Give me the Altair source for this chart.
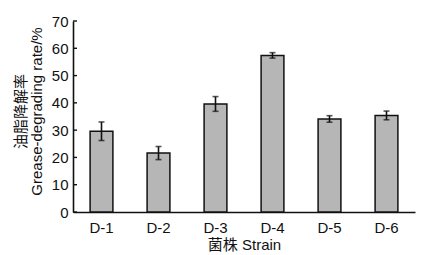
import altair as alt
import pandas as pd

strains = ["D-1", "D-2", "D-3", "D-4", "D-5", "D-6"]
rates = [29.6, 21.6, 39.6, 57.4, 34.1, 35.4]
errors = [3.4, 2.4, 2.7, 1.0, 1.2, 1.6]
y_ticks = [0, 10, 20, 30, 40, 50, 60, 70]

df = pd.DataFrame({"strain": strains, "rate": rates, "err": errors})
df["lo"] = df["rate"] - df["err"]
df["hi"] = df["rate"] + df["err"]
tick_df = pd.DataFrame({"v": y_ticks})

FONT = "Liberation Sans, Noto Sans CJK SC"

xaxis = alt.Axis(title="菌株 Strain", labelAngle=0, ticks=False,
                 labelFont=FONT, labelFontSize=15, labelColor="#111",
                 labelPadding=8, domainColor="#111", domainWidth=1.6,
                 titleFont=FONT, titleFontSize=15, titleFontWeight="normal",
                 titleColor="#111", titlePadding=2)
xscale = alt.Scale(paddingInner=0.6, paddingOuter=0.3)
yaxis = alt.Axis(values=y_ticks, tickCount=8, ticks=False, grid=False, labelOverlap=False,
                 labelFont=FONT, labelFontSize=15, labelColor="#111",
                 labelPadding=5, domainColor="#111", domainWidth=1.6,
                 title=["\u00a0" * 5 + "油脂降解率", "Grease-degrading rate/%"],
                 titleFont=FONT, titleFontSize=15, titleFontWeight="normal",
                 titleColor="#111", titleLineHeight=16,
                 titleAngle=-90, titleBaseline="middle", titleAlign="center",
                 titleX=-53, titleY=90)
yscale = alt.Scale(domain=[0, 70], nice=False)

def X():
    return alt.X("strain:N", sort=strains, scale=xscale, axis=xaxis)

def Y(field):
    return alt.Y(field, scale=yscale, axis=yaxis)

bars = alt.Chart(df).mark_bar(color="#b6b6b6", stroke="#111", strokeWidth=1.5).encode(
    x=X(), y=Y("rate:Q"))

err = alt.Chart(df).mark_rule(color="#111", strokeWidth=1.6).encode(
    x=X(), y=Y("lo:Q"), y2="hi:Q")
cap_hi = alt.Chart(df).mark_tick(color="#111", thickness=1.6, size=6, orient="horizontal").encode(
    x=X(), y=Y("hi:Q"))
cap_lo = alt.Chart(df).mark_tick(color="#111", thickness=1.6, size=6, orient="horizontal").encode(
    x=X(), y=Y("lo:Q"))

yt = alt.Chart(tick_df).mark_rule(color="#111", strokeWidth=1.4).encode(
    y=Y("v:Q"), x=alt.value(0), x2=alt.value(4))

chart = alt.layer(bars, err, cap_hi, cap_lo, yt).properties(
    width=342, height=191,
    autosize=alt.AutoSizeParams(type="none"),
    padding={"left": 73, "top": 21, "right": 14, "bottom": 43},
    background="white",
).configure_view(stroke=None)

chart.save("out.html", embed_options={"renderer": "svg", "actions": False})
